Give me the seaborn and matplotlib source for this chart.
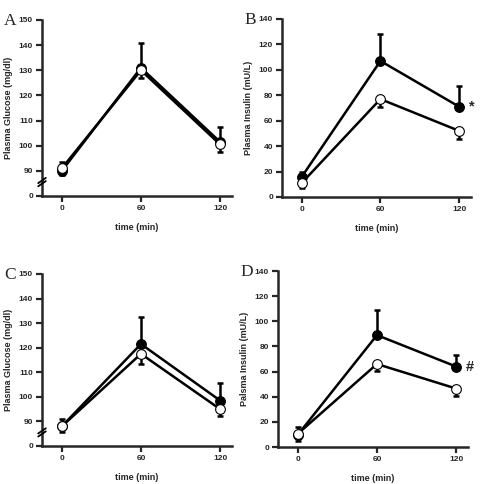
import matplotlib
matplotlib.use("Agg")
import matplotlib.pyplot as plt
import seaborn as sns
import pandas as pd

# time points (min)
times = [0, 60, 120]

# Panel A: plasma glucose (mg/dl)
a_filled = [90, 131, 101.5]
a_filled_err = [3.5, 10, 6]
a_open = [91, 130, 100.5]
a_open_err = [2.5, 3, 3]

# Panel B: plasma insulin (mU/L)
b_filled = [15.8, 107, 71]
b_filled_err = [3.5, 21.5, 16.5]
b_open = [11, 77, 52]
b_open_err = [4, 6, 6]

# Panel C: plasma glucose (mg/dl)
c_filled = [88, 121.5, 98.5]
c_filled_err = [3, 11, 7]
c_open = [88, 117.5, 95]
c_open_err = [2.5, 4, 2.6]

# Panel D: plasma insulin (mU/L)
d_filled = [9.7, 89, 64]
d_filled_err = [6.5, 20, 9]
d_open = [10.5, 66, 46.5]
d_open_err = [6, 5.5, 6]

glucose_ticks = [80, 90, 100, 110, 120, 130, 140, 150]
glucose_labels = ["0", "90", "100", "110", "120", "130", "140", "150"]
insulin_ticks = [0, 20, 40, 60, 80, 100, 120, 140]

sns.set_style("ticks")
plt.rcParams["font.family"] = ["Liberation Sans", "DejaVu Sans"]

fig = plt.figure(figsize=(4.8, 4.84), dpi=100)
W, H = 480, 484


def add_axes(left, top, width, height):
    return fig.add_axes([left / W, 1 - (top + height) / H, width / W, height / H])


def draw_panel(ax, filled, filled_err, opened, opened_err, ylabel, ylim, yticks, ylabels, letter, mark=None, brk=False):
    df = pd.DataFrame({"time": times * 2,
                       "value": filled + opened,
                       "group": ["filled"] * 3 + ["open"] * 3})
    # error bars: filled up, open down
    ax.errorbar(times, filled, yerr=[[0] * 3, filled_err], fmt="none", ecolor="black",
                elinewidth=1.8, capsize=2.2, capthick=1.8, zorder=2)
    ax.errorbar(times, opened, yerr=[opened_err, [0] * 3], fmt="none", ecolor="black",
                elinewidth=1.8, capsize=2.2, capthick=1.8, zorder=2)
    for grp, fc, z in [("filled", "black", 3), ("open", "white", 4)]:
        sub = df[df["group"] == grp]
        sns.lineplot(data=sub, x="time", y="value", ax=ax, color="black", lw=1.8,
                     marker="o", markersize=7, markerfacecolor=fc, markeredgecolor="black",
                     markeredgewidth=0.8, zorder=z)
    ax.set_xlim(-15, 129)
    ax.set_ylim(*ylim)
    ax.set_xticks(times)
    ax.set_xticklabels([str(t) for t in times])
    ax.set_yticks(yticks)
    ax.set_yticklabels(ylabels)
    ax.tick_params(axis="both", direction="out", length=4, width=1.6, labelsize=6, pad=2.5)
    for lab in ax.get_xticklabels() + ax.get_yticklabels():
        lab.set_fontweight("bold")
    ax.set_xlabel("time (min)", fontsize=6.5, fontweight="bold", labelpad=8)
    ax.set_ylabel(ylabel, fontsize=6.5, fontweight="bold", labelpad=4)
    sns.despine(ax=ax)
    for s in ["left", "bottom"]:
        ax.spines[s].set_linewidth(1.8)
    ax.set_facecolor("white")
    ax.text(-0.2, 1.04, letter, transform=ax.transAxes, fontsize=12.5,
            family=["Liberation Serif", "DejaVu Serif"], va="top", ha="left")
    if mark is not None:
        ax.annotate(mark, xy=(times[-1], filled[-1]), xytext=(7, 0), textcoords="offset points",
                    fontsize=10.5, fontweight="bold", va="center", ha="left",
                    annotation_clip=False)
    if brk:
        # axis break marks on the y spine
        for dy in (0.0, 0.018):
            ax.plot([-0.02, 0.02], [0.055 + dy, 0.085 + dy], transform=ax.transAxes,
                    color="black", lw=1.3, clip_on=False, zorder=5)


ax_a = add_axes(42, 20, 190, 176)
draw_panel(ax_a, a_filled, a_filled_err, a_open, a_open_err, "Plasma Glucose (mg/dl)",
           (80, 150), glucose_ticks, glucose_labels, "A", brk=True)

ax_b = add_axes(282, 19, 189, 178)
draw_panel(ax_b, b_filled, b_filled_err, b_open, b_open_err, "Plasma Insulin (mU/L)",
           (0, 140), insulin_ticks, [str(t) for t in insulin_ticks], "B", mark="*")

ax_c = add_axes(42, 274, 190, 172)
draw_panel(ax_c, c_filled, c_filled_err, c_open, c_open_err, "Plasma Glucose (mg/dl)",
           (80, 150), glucose_ticks, glucose_labels, "C", brk=True)

ax_d = add_axes(278, 271, 190, 176)
draw_panel(ax_d, d_filled, d_filled_err, d_open, d_open_err, "Palsma Insulin (mU/L)",
           (0, 140), insulin_ticks, [str(t) for t in insulin_ticks], "D", mark="#")

fig.savefig("out.png", dpi=100, facecolor="white")
